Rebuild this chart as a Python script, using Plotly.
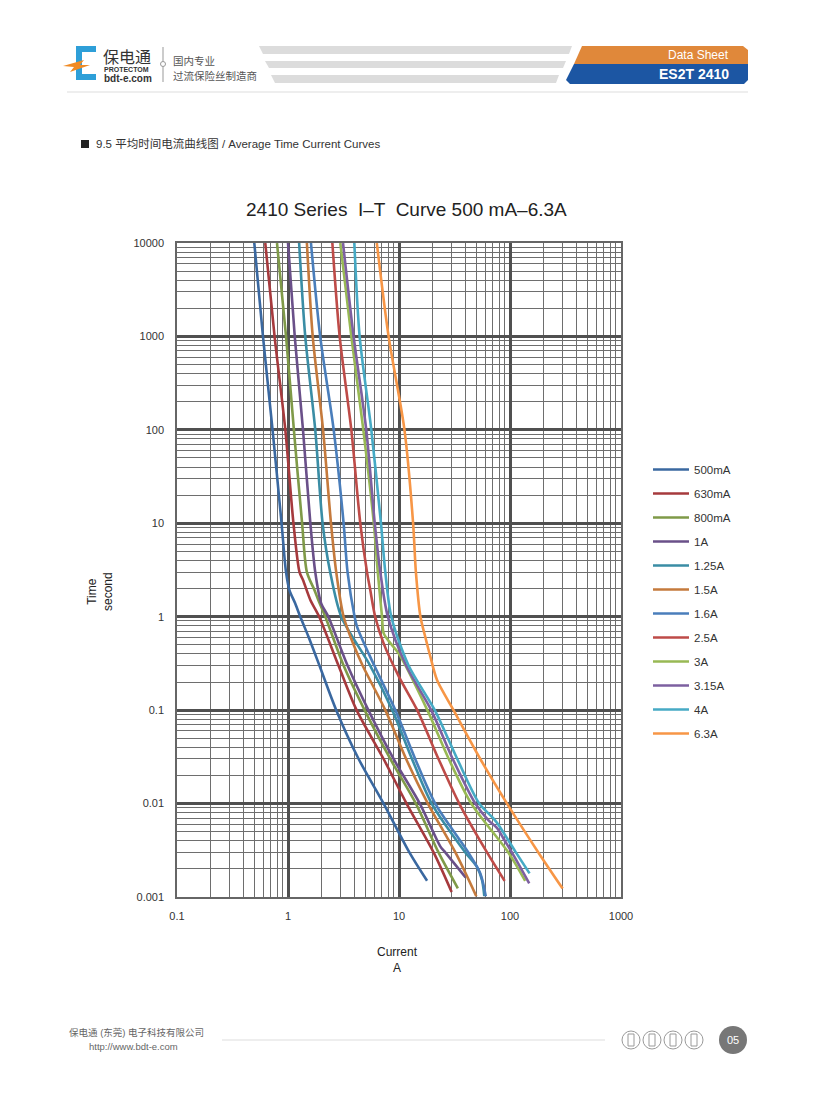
import plotly.graph_objects as go

# fuse ratings and line colours (legend order)
ratings = ["500mA", "630mA", "800mA", "1A", "1.25A", "1.5A",
           "1.6A", "2.5A", "3A", "3.15A", "4A", "6.3A"]
colors = ["#3A68A0", "#A63A3D", "#7F9A48", "#6A5089", "#3A8DA5", "#C57A3C",
          "#4A7EBB", "#BE4B48", "#98B954", "#7D60A0", "#46AAC5", "#F79646"]

# time (s) / current (A) pairs
t_500ma = [10000, 1000, 100, 10, 3, 1.93, 1.39, 1, 0.61, 0.3, 0.1, 0.03, 0.01, 0.003, 0.00149]
i_500ma = [0.497, 0.595, 0.726, 0.875, 0.96, 1.03, 1.16, 1.29, 1.53, 1.92, 2.72, 4.33, 7.27, 12.4, 17.9]

t_630ma = [10000, 1000, 100, 10, 3, 2.47, 1.51, 1, 0.3, 0.1, 0.03, 0.01, 0.003, 0.00113]
i_630ma = [0.624, 0.757, 0.946, 1.12, 1.27, 1.365, 1.59, 1.91, 2.85, 4.15, 7.27, 11.7, 20.5, 29.8]

t_800ma = [10000, 1000, 100, 10, 3, 1.93, 1.51, 1, 0.3, 0.1, 0.03, 0.01, 0.003, 0.00124]
i_800ma = [0.796, 0.96, 1.13, 1.34, 1.48, 1.73, 1.875, 2.17, 3.17, 4.9, 8.35, 14.2, 22.7, 33.9]

t_1a = [10000, 1000, 100, 10, 3, 1.39, 1, 0.3, 0.1, 0.03, 0.01, 0.00344, 0.003, 0.00162]
i_1a = [1.0, 1.15, 1.365, 1.59, 1.76, 1.99, 2.31, 3.44, 5.3, 8.94, 15.4, 23.7, 26.1, 39.8]

t_1_25a = [10000, 1000, 100, 10, 3, 1, 0.3, 0.1, 0.03, 0.01, 0.003, 0.0021, 0.00151, 0.00102]
i_1_25a = [1.26, 1.43, 1.76, 2.05, 2.40, 3.02, 5.5, 8.7, 13.1, 19.7, 39.6, 50.4, 56.0, 58.7]

t_1_5a = [10000, 1000, 100, 10, 3, 1, 0.5, 0.3, 0.1, 0.03, 0.01, 0.003, 0.00102]
i_1_5a = [1.48, 1.67, 2.07, 2.44, 2.72, 3.17, 3.90, 4.70, 7.53, 11.6, 18.2, 32.2, 49.7]

t_1_6a = [10000, 1000, 100, 10, 3, 1, 0.78, 0.405, 0.3, 0.1, 0.03, 0.01, 0.003, 0.00179, 0.00102]
i_1_6a = [1.61, 1.95, 2.58, 3.17, 3.44, 3.98, 4.19, 5.32, 5.99, 9.27, 14.0, 21.2, 42.1, 54.0, 60.5]

t_2_5a = [10000, 1000, 100, 10, 3, 1.93, 1, 0.518, 0.227, 0.1, 0.03, 0.01, 0.003, 0.00149]
i_2_5a = [2.51, 2.92, 3.72, 4.48, 5.15, 5.51, 6.1, 7.27, 10.0, 14.6, 22.7, 34.9, 62.1, 89.4]

t_3a = [10000, 1000, 100, 10, 3, 1, 0.667, 0.538, 0.405, 0.1, 0.03, 0.01, 0.003, 0.00149]
i_3a = [2.96, 3.72, 4.77, 5.93, 6.44, 7.03, 7.27, 8.18, 9.92, 18.0, 28.1, 44.8, 96.6, 137]

t_3_15a = [10000, 1000, 100, 10, 3, 1, 0.3, 0.1, 0.03, 0.01, 0.0066, 0.0055, 0.0042, 0.003, 0.0014]
i_3_15a = [3.13, 3.90, 5.07, 6.05, 6.79, 7.93, 11.6, 19.5, 30.5, 48.7, 64.1, 76.3, 87.5, 104, 149]

t_4a = [10000, 1000, 100, 10, 3, 1, 0.3, 0.1, 0.03, 0.01, 0.0069, 0.0059, 0.003, 0.00179]
i_4a = [3.96, 4.42, 5.63, 6.88, 7.53, 8.52, 12.2, 21.0, 33.5, 52.9, 71.2, 78.9, 113, 150]

t_6_3a = [10000, 1000, 100, 10, 3, 1, 0.6, 0.38, 0.21, 0.1, 0.03, 0.01, 0.003, 0.00123]
i_6_3a = [6.31, 8.06, 11.2, 13.4, 14.2, 15.6, 17.3, 19.1, 22.0, 31.0, 54.0, 94.0, 180, 298]

times = [t_500ma, t_630ma, t_800ma, t_1a, t_1_25a, t_1_5a,
         t_1_6a, t_2_5a, t_3a, t_3_15a, t_4a, t_6_3a]
currents = [i_500ma, i_630ma, i_800ma, i_1a, i_1_25a, i_1_5a,
            i_1_6a, i_2_5a, i_3a, i_3_15a, i_4a, i_6_3a]

x_ticks = [0.1, 1, 10, 100, 1000]
x_labels = ["0.1", "1", "10", "100", "1000"]
y_ticks = [0.001, 0.01, 0.1, 1, 10, 100, 1000, 10000]
y_labels = ["0.001", "0.01", "0.1", "1", "10", "100", "1000", "10000"]

# page / plot area in page pixels; the html body adds an 8px margin
W, H = 816, 1100
OFF = 8
PL, PR, PT, PB = 177, 621, 243, 897
CJK = "Noto Sans CJK SC"
SANS = "Liberation Sans, Arial, sans-serif"
MIX = "Liberation Sans, Noto Sans CJK SC, sans-serif"


def px(x):
    return (x - PL) / (PR - PL)


def py(y):
    return (PB - y) / (PB - PT)


def path(points, close=True):
    s = "M " + " L ".join("%.5f,%.5f" % (px(a), py(b)) for a, b in points)
    return s + (" Z" if close else "")


fig = go.Figure()

for name, col, t, i in zip(ratings, colors, times, currents):
    fig.add_trace(go.Scatter(x=i, y=t, name=name, mode="lines",
                             legendgroup=name,
                             line=dict(color=col, width=2.6, shape="spline", smoothing=0.8)))

shapes = []
annos = []

# ---- header ----
# logo bracket
shapes.append(dict(type="path", path=path([(76, 46), (96, 46), (96, 52), (82, 52), (82, 74),
                                           (96, 74), (96, 80), (76, 80)]),
                   fillcolor="#2E9FD8", line=dict(width=0)))
shapes.append(dict(type="path", path=path([(63, 66), (84, 60), (80, 65), (90, 65), (70, 72), (74, 67)]),
                   fillcolor="#F08A24", line=dict(width=0)))
annos.append(dict(text="保电通", x=px(101), y=py(56), xanchor="left", yanchor="middle",
                  font=dict(family=CJK, size=16, color="#333333")))
annos.append(dict(text="<b>PROTECTOM</b>", x=px(102), y=py(69), xanchor="left", yanchor="middle",
                  font=dict(family=SANS, size=7, color="#333333")))
annos.append(dict(text="<b>bdt-e.com</b>", x=px(102), y=py(78), xanchor="left", yanchor="middle",
                  font=dict(family=SANS, size=10, color="#333333")))
shapes.append(dict(type="line", x0=px(163), x1=px(163), y0=py(47), y1=py(82),
                   line=dict(color="#999999", width=1)))
shapes.append(dict(type="circle", x0=px(160.5), x1=px(165.5), y0=py(61.5), y1=py(66.5),
                   fillcolor="white", line=dict(color="#999999", width=1)))
annos.append(dict(text="国内专业", x=px(171), y=py(61), xanchor="left", yanchor="middle",
                  font=dict(family=CJK, size=10.5, color="#555555")))
annos.append(dict(text="过流保险丝制造商", x=px(171), y=py(76), xanchor="left", yanchor="middle",
                  font=dict(family=CJK, size=10.5, color="#555555")))

# grey stripes
for (xa, xb, ya, yb) in [(259, 572, 46, 54), (265, 566, 61, 68), (271, 559, 75, 83)]:
    shapes.append(dict(type="path", path=path([(xa, ya), (xb, ya), (xb - 3, yb), (xa + 4, yb)]),
                       fillcolor="#DCDCDC", line=dict(width=0)))

# data sheet badge
shapes.append(dict(type="path", path=path([(582, 46), (743, 46), (748, 50), (748, 64), (574, 64)]),
                   fillcolor="#E0883A", line=dict(width=0)))
shapes.append(dict(type="path", path=path([(574, 64), (748, 64), (748, 80), (744, 84), (570, 84),
                                           (566, 80)]),
                   fillcolor="#1C56A3", line=dict(width=0)))
annos.append(dict(text="Data Sheet", x=px(731), y=py(55), xanchor="right", yanchor="middle",
                  font=dict(family=SANS, size=12, color="white")))
annos.append(dict(text="<b>ES2T 2410</b>", x=px(731), y=py(74), xanchor="right", yanchor="middle",
                  font=dict(family=SANS, size=14, color="white")))
shapes.append(dict(type="line", x0=px(67), x1=px(748), y0=py(92), y1=py(92),
                   line=dict(color="#DDDDDD", width=1)))

# section heading
shapes.append(dict(type="rect", x0=px(81), x1=px(89), y0=py(140), y1=py(148),
                   fillcolor="#222222", line=dict(width=0)))
annos.append(dict(text="9.5 平均时间电流曲线图 / Average Time Current Curves", x=px(94), y=py(144),
                  xanchor="left", yanchor="middle",
                  font=dict(family=MIX, size=11.5, color="#333333")))

# chart title and axis titles
annos.append(dict(text="2410 Series  I–T  Curve 500 mA–6.3A", x=px(406), y=py(210),
                  xanchor="center", yanchor="middle",
                  font=dict(family=SANS, size=19, color="#222222")))
annos.append(dict(text="Current<br>A", x=px(397), y=py(960), xanchor="center", yanchor="middle",
                  font=dict(family=SANS, size=12, color="#222222")))
annos.append(dict(text="Time<br>second", x=px(100), y=py(592), xanchor="center", yanchor="middle",
                  textangle=-90, font=dict(family=SANS, size=12, color="#222222")))

# ---- footer ----
annos.append(dict(text="保电通 (东莞) 电子科技有限公司", x=px(67), y=py(1032), xanchor="left",
                  yanchor="middle", font=dict(family=MIX, size=9.5, color="#666666")))
annos.append(dict(text="http://www.bdt-e.com", x=px(87), y=py(1046), xanchor="left",
                  yanchor="middle", font=dict(family=SANS, size=9.5, color="#666666")))
shapes.append(dict(type="line", x0=px(222), x1=px(605), y0=py(1040), y1=py(1040),
                   line=dict(color="#DDDDDD", width=1)))
for cx in [631, 652, 673, 694]:
    shapes.append(dict(type="circle", x0=px(cx - 9), x1=px(cx + 9), y0=py(1031), y1=py(1049),
                       line=dict(color="#9A9A9A", width=1)))
    shapes.append(dict(type="rect", x0=px(cx - 3), x1=px(cx + 3), y0=py(1034), y1=py(1046),
                       line=dict(color="#9A9A9A", width=1)))
shapes.append(dict(type="circle", x0=px(719), x1=px(747), y0=py(1026), y1=py(1054),
                   fillcolor="#777777", line=dict(width=0)))
annos.append(dict(text="05", x=px(733), y=py(1040), xanchor="center", yanchor="middle",
                  font=dict(family=SANS, size=11, color="white")))

for a in annos:
    a.update(xref="paper", yref="paper", showarrow=False)
for s in shapes:
    s.update(xref="paper", yref="paper", layer="above")

fig.update_layout(
    width=W, height=H, autosize=False,
    margin=dict(l=PL - OFF, r=W - PR + OFF, t=PT - OFF, b=H - PB + OFF),
    paper_bgcolor="white", plot_bgcolor="white",
    font=dict(family=SANS, size=11, color="#333333"),
    showlegend=True,
    legend=dict(x=px(648), y=py(455), xanchor="left", yanchor="top",
                font=dict(family=SANS, size=11.5, color="#333333"),
                traceorder="grouped", tracegroupgap=5, itemwidth=36,
                bgcolor="rgba(0,0,0,0)"),
    shapes=shapes, annotations=annos,
)

fig.update_xaxes(type="log", range=[-1, 3], tickvals=x_ticks, ticktext=x_labels,
                 showgrid=True, gridcolor="#505050", gridwidth=2.5,
                 minor=dict(showgrid=True, gridcolor="#6E6E6E", gridwidth=1.4, dtick="D1"),
                 showline=True, linecolor="#666666", linewidth=1.5, mirror=True,
                 ticks="", ticklabelstandoff=8, tickfont=dict(size=11, color="#333333"),
                 zeroline=False)
fig.update_yaxes(type="log", range=[-3, 4], tickvals=y_ticks, ticktext=y_labels,
                 showgrid=True, gridcolor="#505050", gridwidth=2.5,
                 minor=dict(showgrid=True, gridcolor="#6E6E6E", gridwidth=1.4, dtick="D1"),
                 showline=True, linecolor="#666666", linewidth=1.5, mirror=True,
                 ticks="", ticklabelstandoff=9, tickfont=dict(size=11, color="#333333"),
                 zeroline=False)

fig.write_html("out.html")
